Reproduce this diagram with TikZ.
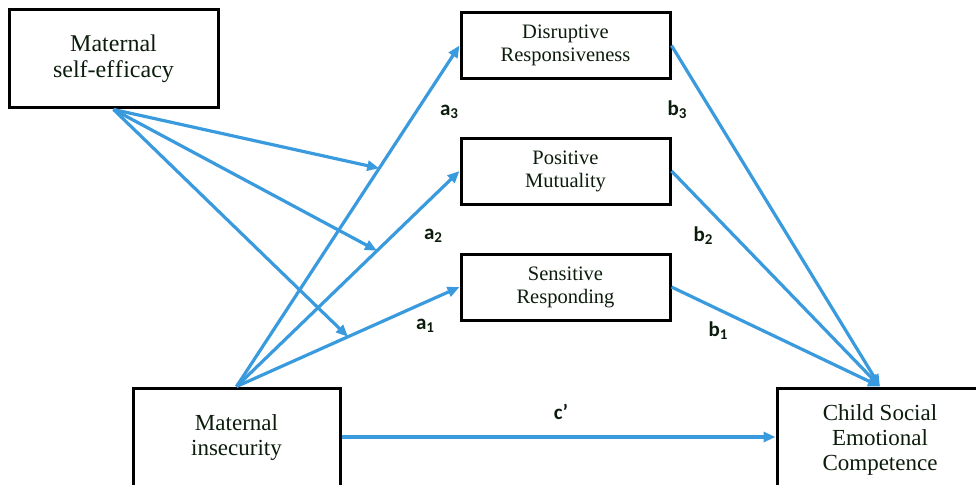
\documentclass[tikz,border=0pt]{standalone}
\usepackage{fontspec}
\setmainfont{Liberation Serif}
\newfontfamily\labfont{Carlito}
\usetikzlibrary{arrows.meta,calc}
\definecolor{arrowblue}{RGB}{58,154,222}
\definecolor{txt}{RGB}{12,28,12}
\newcommand{\sbs}[1]{\raisebox{-0.3ex}{\fontsize{15}{15}\selectfont #1}}
\begin{document}
\begin{tikzpicture}[x=1pt,y=-1pt,
  bigbox/.style={draw=black,line width=3pt,inner sep=0pt,align=center,text=txt,
     font=\fontsize{23}{25}\selectfont},
  medbox/.style={draw=black,line width=3pt,inner sep=0pt,align=center,text=txt,
     minimum width=209pt,minimum height=66pt,font=\fontsize{20.5}{23}\selectfont},
  conn/.style={draw=arrowblue,line width=3.2pt,-{Triangle[length=12pt,width=10pt]}},
  lab/.style={font=\labfont\bfseries\fontsize{21}{21}\selectfont,text=txt,inner sep=0pt}]
\useasboundingbox (0,0) rectangle (976,484);
\clip (0,0) rectangle (976,484);

\node[bigbox,minimum width=209pt,minimum height=98pt,font=\fontsize{24}{26}\selectfont] (mse) at (113.5,59) {Maternal\\self-ef\kern0.5pt f\kern0.5pt icacy};
\node[medbox] (dr) at (565.5,45.5) {Disruptive\\Responsiveness};
\node[medbox] (pm) at (565.5,171) {Positive\\Mutuality};
\node[medbox] (sr) at (565.5,287) {Sensitive\\Responding};
\node[bigbox,minimum width=207pt,minimum height=98pt] (mi) at (236.5,437) {Maternal\\insecurity};
\node[bigbox,minimum width=206pt,minimum height=104pt] (cs) at (880,440) {Child Social\\Emotional\\Competence};

\coordinate (p3) at ($(mi.north)!0.64!(dr.west)$);
\coordinate (p2) at ($(mi.north)!0.63!(pm.west)$);
\coordinate (p1) at ($(mi.north)!0.5!(sr.west)$);

\draw[conn] (mi.north) -- (dr.west);
\draw[conn] (mi.north) -- (pm.west);
\draw[conn] (mi.north) -- (sr.west);

\draw[conn] (mse.south) -- (p3);
\draw[conn] (mse.south) -- (p2);
\draw[conn] (mse.south) -- (p1);

\draw[conn] (dr.east) -- (cs.north);
\draw[conn] (pm.east) -- (cs.north);
\draw[conn] (sr.east) -- (cs.north);

\draw[conn] (mi.east) -- (mi.east -| cs.west);

\node[lab] (la3) at (449,112) {a\sbs{3}};
\node[lab] (la2) at (433,236) {a\sbs{2}};
\node[lab] (la1) at (425,326) {a\sbs{1}};
\node[lab] (lb3) at (677,110) {b\sbs{3}};
\node[lab] (lb2) at (703,236) {b\sbs{2}};
\node[lab] (lb1) at (718,331) {b\sbs{1}};
\node[lab] (lc) at (561,412) {c’};
\end{tikzpicture}
\end{document}
